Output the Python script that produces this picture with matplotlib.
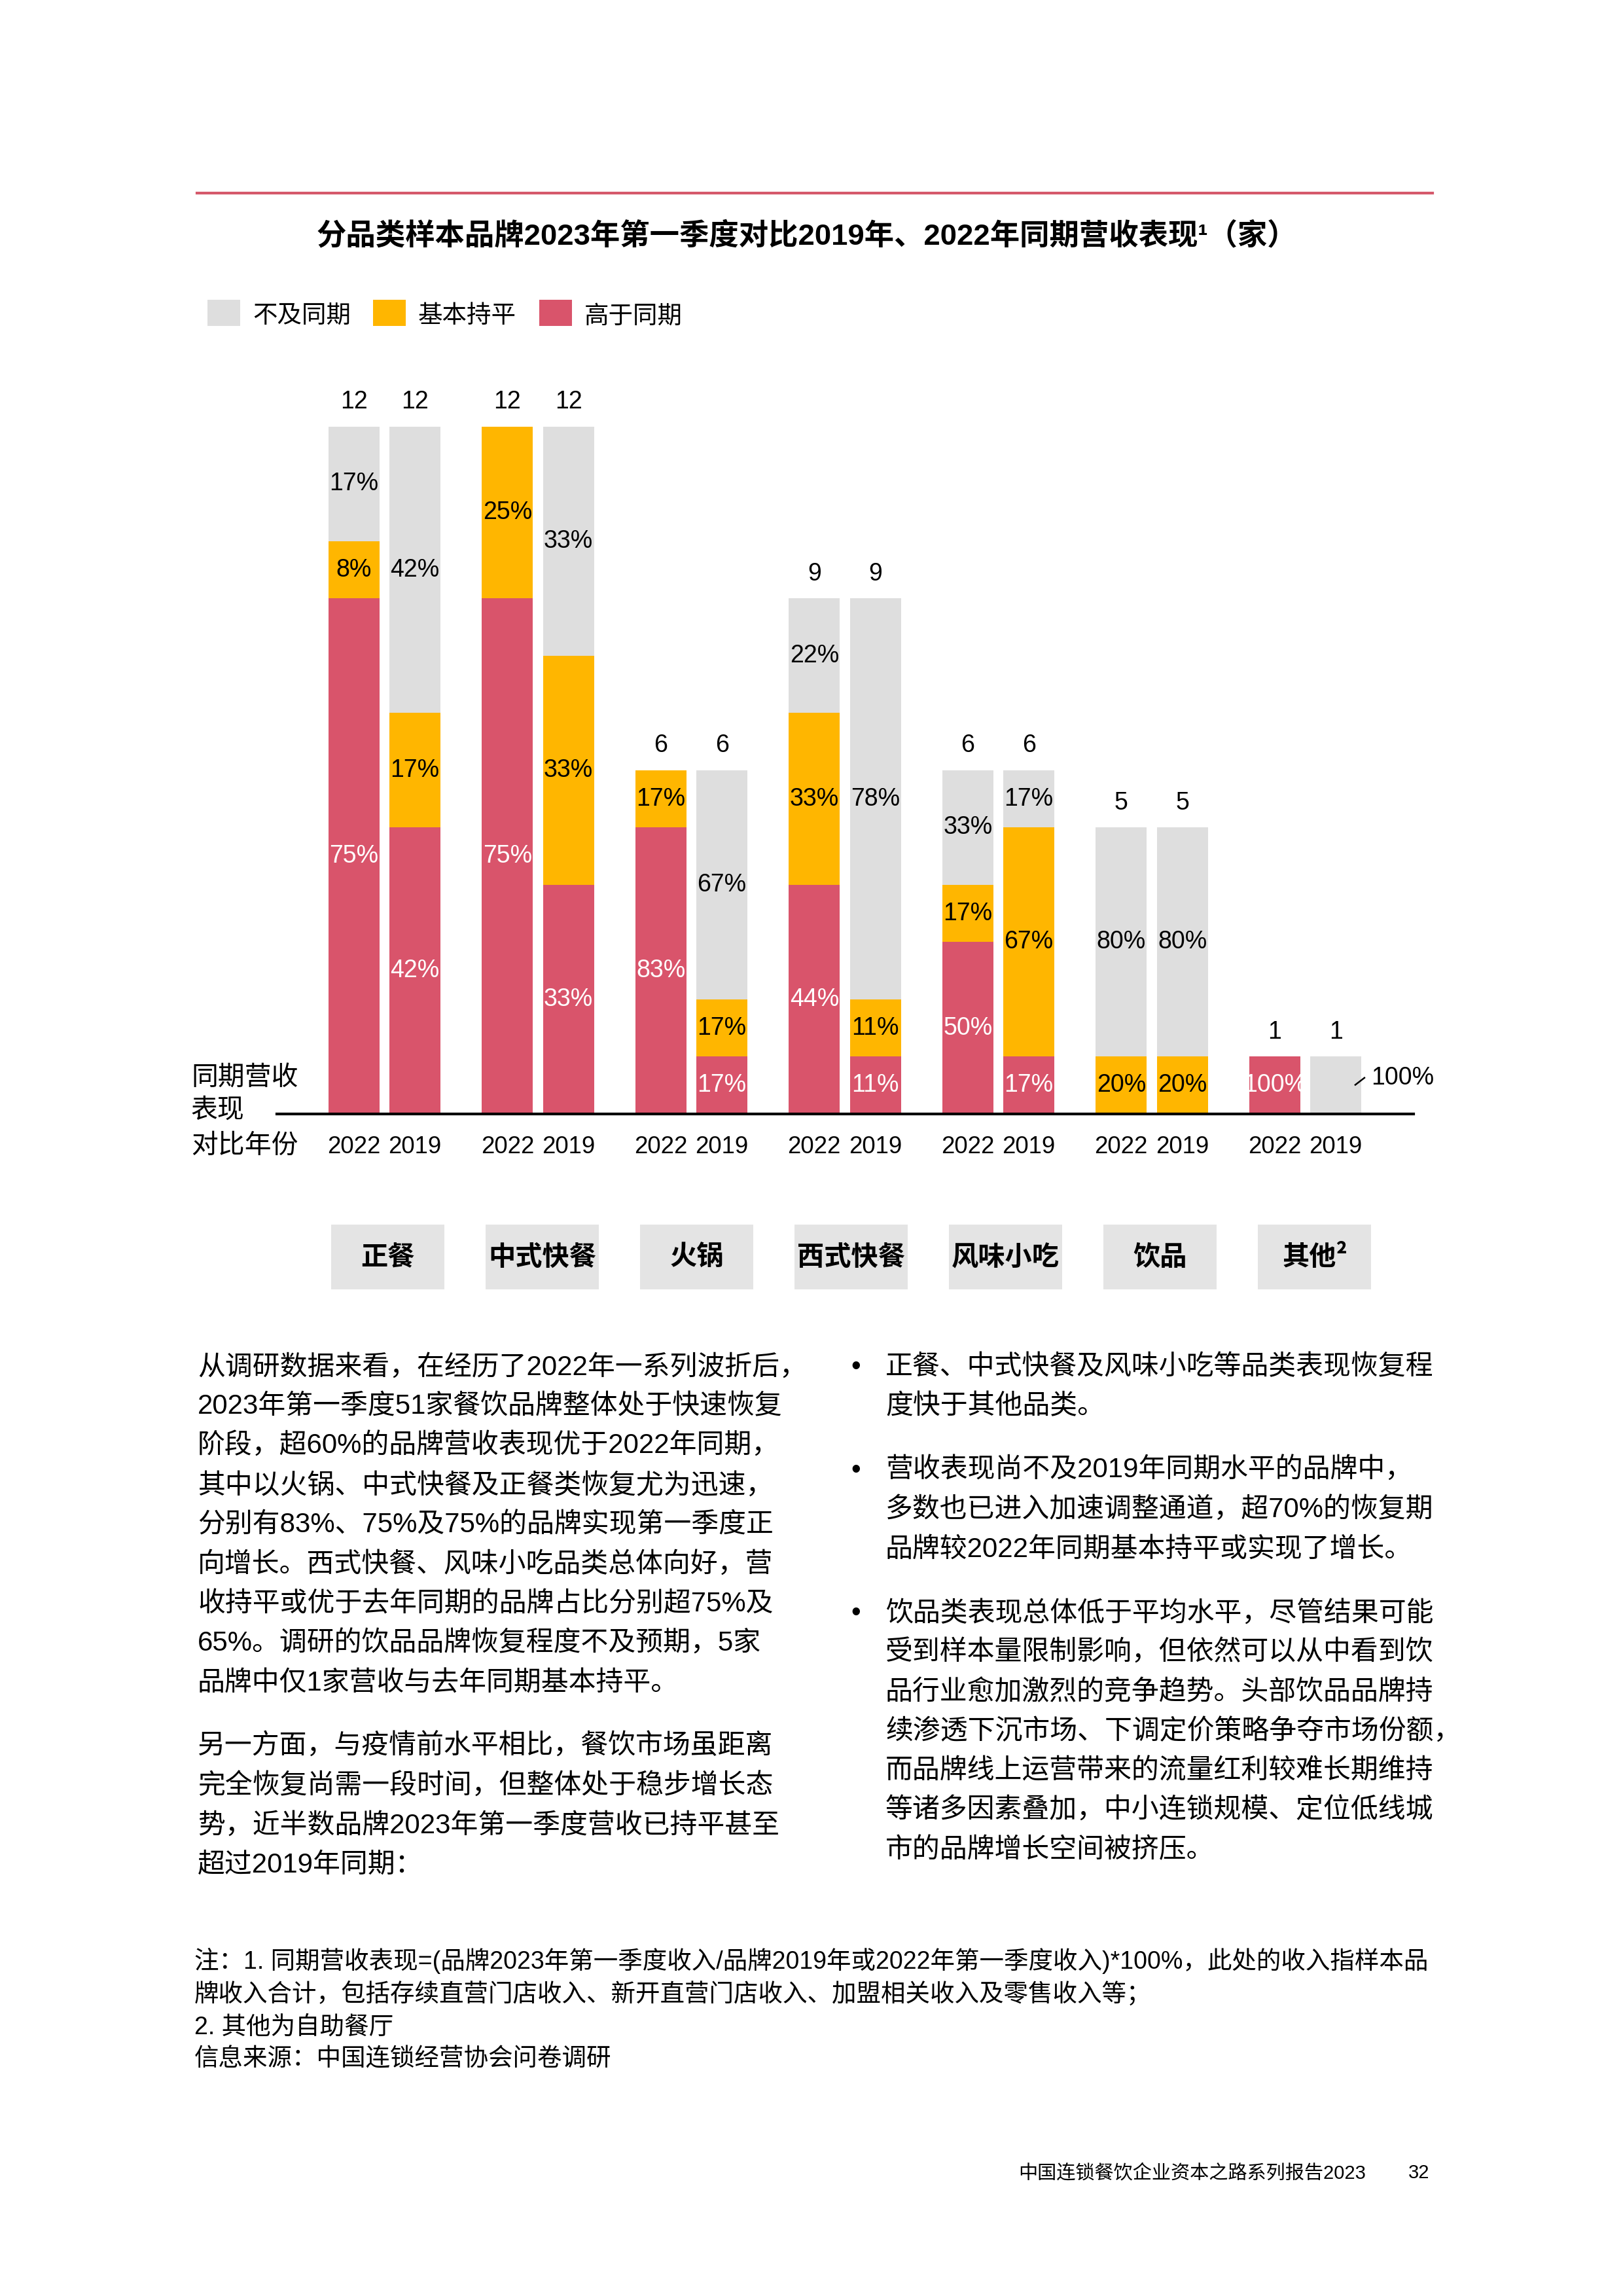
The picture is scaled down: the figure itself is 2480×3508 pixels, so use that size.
import matplotlib
matplotlib.use('Agg')
import matplotlib.pyplot as plt
from matplotlib.patches import Rectangle
from matplotlib.lines import Line2D
import matplotlib.transforms as mtransforms

# ---------------- data ----------------
categories = ['正餐', '中式快餐', '火锅', '西式快餐', '风味小吃', '饮品', '其他²']
years = ['2022', '2019']
series_names = ['不及同期', '基本持平', '高于同期']
# number of brands per category, [2022, 2019]
higher = [[9, 5], [9, 4], [5, 1], [4, 1], [3, 1], [0, 0], [1, 0]]   # 高于同期
flat = [[1, 2], [3, 4], [1, 1], [3, 1], [1, 4], [1, 1], [0, 0]]     # 基本持平
lower = [[2, 5], [0, 4], [0, 4], [2, 7], [2, 1], [4, 4], [0, 1]]    # 不及同期
outside_label = (6, 1)   # 其他 2019: label drawn outside the bar

title = '分品类样本品牌2023年第一季度对比2019年、2022年同期营收表现¹（家）'
para1 = ['从调研数据来看，在经历了2022年一系列波折后，',
         '2023年第一季度51家餐饮品牌整体处于快速恢复',
         '阶段，超60%的品牌营收表现优于2022年同期，',
         '其中以火锅、中式快餐及正餐类恢复尤为迅速，',
         '分别有83%、75%及75%的品牌实现第一季度正',
         '向增长。西式快餐、风味小吃品类总体向好，营',
         '收持平或优于去年同期的品牌占比分别超75%及',
         '65%。调研的饮品品牌恢复程度不及预期，5家',
         '品牌中仅1家营收与去年同期基本持平。']
para2 = ['另一方面，与疫情前水平相比，餐饮市场虽距离',
         '完全恢复尚需一段时间，但整体处于稳步增长态',
         '势，近半数品牌2023年第一季度营收已持平甚至',
         '超过2019年同期：']
bullets = [['正餐、中式快餐及风味小吃等品类表现恢复程',
            '度快于其他品类。'],
           ['营收表现尚不及2019年同期水平的品牌中，',
            '多数也已进入加速调整通道，超70%的恢复期',
            '品牌较2022年同期基本持平或实现了增长。'],
           ['饮品类表现总体低于平均水平，尽管结果可能',
            '受到样本量限制影响，但依然可以从中看到饮',
            '品行业愈加激烈的竞争趋势。头部饮品品牌持',
            '续渗透下沉市场、下调定价策略争夺市场份额，',
            '而品牌线上运营带来的流量红利较难长期维持',
            '等诸多因素叠加，中小连锁规模、定位低线城',
            '市的品牌增长空间被挤压。']]
notes = ['注：1. 同期营收表现=(品牌2023年第一季度收入/品牌2019年或2022年第一季度收入)*100%，此处的收入指样本品',
         '牌收入合计，包括存续直营门店收入、新开直营门店收入、加盟相关收入及零售收入等；',
         '2. 其他为自助餐厅',
         '信息来源：中国连锁经营协会问卷调研']
footer = '中国连锁餐饮企业资本之路系列报告2023'
page_no = '32'

# ---------------- style ----------------
W, H = 2480, 3508
DPI = 300
FAM = ['Liberation Sans', 'Noto Sans CJK SC', 'DejaVu Sans']
CJK = ['Noto Sans CJK SC', 'DejaVu Sans']
plt.rcParams['font.family'] = FAM

RED = '#D9546B'
YEL = '#FFB600'
GRY = '#DEDEDE'
BOX = '#E4E4E4'
ROSE = '#D5596B'


def fx(x):
    return x / W


def fy(y):
    return 1 - y / H


def pt2px(p):
    return p * DPI / 72.0


fig = plt.figure(figsize=(W / DPI, H / DPI), dpi=DPI)

# top rule
fig.add_artist(Line2D([fx(301), fx(2189)], [fy(295), fy(295)], color=ROSE, lw=1.0))

# title
fig.text(fx(1233), fy(360), title, ha='center', va='center', fontsize=10.9,
         fontweight='bold', family=FAM)

# legend
leg_colors = [GRY, YEL, RED]
leg_x = [317, 570, 824]
for name, c, x0 in zip(series_names, leg_colors, leg_x):
    fig.patches.append(Rectangle((fx(x0), fy(498)), 50 / W, 40 / H, transform=fig.transFigure,
                                 facecolor=c, edgecolor='none'))
    fig.text(fx(x0 + 69), fy(483), name, ha='left', va='center', fontsize=9, family=CJK)

# ---------------- chart ----------------
base_px, unit_px = 1702, 87.5
ax = fig.add_axes([fx(423), fy(base_px), (2160 - 423) / W, 13 * unit_px / H])
ax.set_xlim(-0.7015, 6.706)
ax.set_ylim(0, 13)
for s in ['top', 'right', 'left']:
    ax.spines[s].set_visible(False)
ax.spines['bottom'].set_linewidth(1.0)
ax.spines['bottom'].set_color('black')
ax.set_yticks([])

offsets = [-0.199, 0.199]
width = 0.333
LBL = 9.0
tick_pos, tick_lab = [], []
for j, yr in enumerate(years):
    xs = [i + offsets[j] for i in range(len(categories))]
    h = [higher[i][j] for i in range(len(categories))]
    f = [flat[i][j] for i in range(len(categories))]
    l = [lower[i][j] for i in range(len(categories))]
    b2 = [a + b for a, b in zip(h, f)]
    ax.bar(xs, h, width, color=RED, linewidth=0)
    ax.bar(xs, f, width, bottom=h, color=YEL, linewidth=0)
    ax.bar(xs, l, width, bottom=b2, color=GRY, linewidth=0)
    for i, x in enumerate(xs):
        tick_pos.append(x)
        tick_lab.append(yr)
        total = h[i] + f[i] + l[i]
        ax.annotate(str(total), (x, total), xytext=(0, 6.6), textcoords='offset points',
                    ha='center', va='baseline', fontsize=LBL)
        segs = [(h[i], 0, 'white'), (f[i], h[i], 'black'), (l[i], b2[i], 'black')]
        for cnt, bot, col in segs:
            if cnt <= 0:
                continue
            lab = f'{round(100 * cnt / total)}%'
            if (i, j) == outside_label:
                # leader line from inside the bar up to the label
                ax.plot([x + 0.123, x + 0.191], [bot + cnt * 0.50, bot + cnt * 0.64],
                        color='black', lw=0.6, solid_capstyle='butt', clip_on=False)
                ax.text(x + 0.23, bot + cnt * 0.63, lab, ha='left', va='center', fontsize=LBL)
            else:
                ax.text(x, bot + cnt / 2, lab, ha='center', va='center', fontsize=LBL, color=col)

ax.set_xticks(tick_pos, tick_lab)
ax.tick_params(axis='x', length=0, pad=8.0, labelsize=8.8)

# y-axis side captions
fig.text(fx(292), fy(1646), '同期营收', ha='left', va='center', fontsize=9.8, family=CJK)
fig.text(fx(292), fy(1696), '表现', ha='left', va='center', fontsize=9.8, family=CJK)
fig.text(fx(292), fy(1750), '对比年份', ha='left', va='center', fontsize=9.8, family=CJK)

# category boxes
trans = mtransforms.blended_transform_factory(ax.transData, fig.transFigure)
for i, cat in enumerate(categories):
    bx = 0.021 + 1.0068 * i
    ax.add_patch(Rectangle((bx - 0.369, fy(1970)), 0.738, 99 / H, transform=trans,
                           facecolor=BOX, edgecolor='none', clip_on=False))
    ax.text(bx, fy(1921), cat, transform=trans, ha='center', va='center', fontsize=9.9,
            fontweight='bold', family=CJK, clip_on=False)

# ---------------- body text ----------------
BODY = 10.05
base_off = 0.38 * pt2px(BODY)
for k, line in enumerate(para1):
    fig.text(fx(302), fy(2084.5 + 60.3 * k + base_off), line, ha='left', va='baseline',
             fontsize=BODY, family=FAM)
for k, line in enumerate(para2):
    fig.text(fx(302), fy(2664 + 60.3 * k + base_off), line, ha='left', va='baseline',
             fontsize=BODY, family=FAM)

starts = [2084.5, 2242, 2460.5]
for b, y0 in zip(bullets, starts):
    fig.text(fx(1300), fy(y0 + base_off), '•', ha='left', va='baseline', fontsize=BODY, family=FAM)
    for k, line in enumerate(b):
        fig.text(fx(1353), fy(y0 + 60.3 * k + base_off), line, ha='left', va='baseline',
                 fontsize=BODY, family=FAM)

NOTE = 9.0
note_y = [2994, 3044, 3093, 3142]
for line, y in zip(notes, note_y):
    fig.text(fx(297), fy(y + 0.38 * pt2px(NOTE)), line, ha='left', va='baseline',
             fontsize=NOTE, family=FAM)

FOOT = 7.0
fig.text(fx(1556), fy(3317 + 0.38 * pt2px(FOOT)), footer, ha='left', va='baseline',
         fontsize=FOOT, family=FAM)
fig.text(fx(2152), fy(3317 + 0.38 * pt2px(FOOT)), page_no, ha='left', va='baseline',
         fontsize=FOOT, family=FAM)

fig.savefig('out.png', dpi=DPI)
